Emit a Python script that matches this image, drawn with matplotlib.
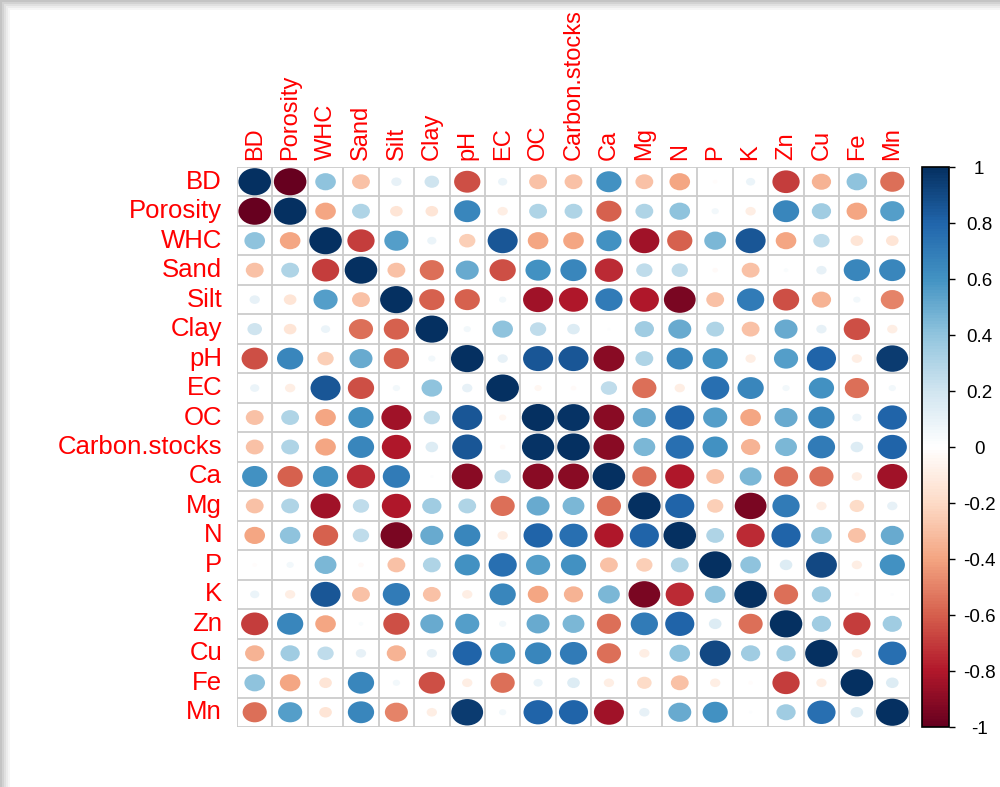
import numpy as np
import matplotlib
matplotlib.use("Agg")
import matplotlib.pyplot as plt
from matplotlib.colors import LinearSegmentedColormap, Normalize
from matplotlib.patches import Ellipse, Rectangle
import matplotlib.cm as cm

plt.rcParams["font.family"] = ["Liberation Sans", "DejaVu Sans"]

variables = ["BD", "Porosity", "WHC", "Sand", "Silt", "Clay", "pH", "EC", "OC",
             "Carbon.stocks", "Ca", "Mg", "N", "P", "K", "Zn", "Cu", "Fe", "Mn"]

# upper triangle, each row starts right after the diagonal
row_bd = [-1, 0.4, -0.3, 0.1, 0.2, -0.65, 0.08, -0.3, -0.3, 0.6, -0.3, -0.4, -0.02, 0.08, -0.7, -0.35, 0.4, -0.55]
row_porosity = [-0.4, 0.3, -0.15, -0.15, 0.65, -0.1, 0.3, 0.3, -0.6, 0.3, 0.4, 0.05, -0.1, 0.65, 0.35, -0.4, 0.55]
row_whc = [-0.7, 0.55, 0.08, -0.25, 0.85, -0.4, -0.4, 0.6, -0.85, -0.6, 0.45, 0.85, -0.4, 0.25, -0.15, -0.15]
row_sand = [-0.3, -0.55, 0.5, -0.65, 0.6, 0.65, -0.75, 0.25, 0.25, -0.03, -0.3, 0.02, 0.1, 0.65, 0.65]
row_silt = [-0.6, -0.6, 0.05, -0.85, -0.8, 0.7, -0.8, -0.95, -0.3, 0.7, -0.65, -0.35, 0.05, -0.5]
row_clay = [0.05, 0.4, 0.25, 0.15, 0.01, 0.35, 0.5, 0.3, -0.3, 0.5, 0.1, -0.65, -0.1]
row_ph = [0.1, 0.85, 0.85, -0.9, 0.3, 0.65, 0.6, -0.1, 0.55, 0.8, -0.1, 0.95]
row_ec = [-0.05, -0.03, 0.25, -0.55, -0.1, 0.75, 0.65, 0.05, 0.6, -0.55, 0.05]
row_oc = [0.98, -0.9, 0.5, 0.8, 0.55, -0.4, 0.5, 0.65, 0.08, 0.8]
row_cstocks = [-0.9, 0.45, 0.75, 0.6, -0.35, 0.45, 0.7, 0.15, 0.8]
row_ca = [-0.55, -0.8, -0.3, 0.45, -0.55, -0.55, -0.1, -0.85]
row_mg = [0.8, -0.25, -0.95, 0.7, -0.1, -0.2, 0.1]
row_n = [0.3, -0.75, 0.8, 0.4, -0.3, 0.5]
row_p = [0.4, 0.15, 0.9, -0.1, 0.6]
row_k = [-0.55, 0.35, -0.02, 0.01]
row_zn = [0.35, -0.7, 0.35]
row_cu = [-0.1, 0.75]
row_fe = [0.15]

upper_rows = [row_bd, row_porosity, row_whc, row_sand, row_silt, row_clay, row_ph,
              row_ec, row_oc, row_cstocks, row_ca, row_mg, row_n, row_p, row_k,
              row_zn, row_cu, row_fe]

cbar_ticks = [-1, -0.8, -0.6, -0.4, -0.2, 0, 0.2, 0.4, 0.6, 0.8, 1]
cbar_labels = ["-1", "-0.8", "-0.6", "-0.4", "-0.2", "0", "0.2", "0.4", "0.6", "0.8", "1"]

n = len(variables)
corr = np.eye(n)
for i, vals in enumerate(upper_rows):
    for k, v in enumerate(vals):
        j = i + 1 + k
        corr[i, j] = v
        corr[j, i] = v

col2 = ["#67001F", "#B2182B", "#D6604D", "#F4A582", "#FDDBC7", "#FFFFFF",
        "#D1E5F0", "#92C5DE", "#4393C3", "#2166AC", "#053061"]
cmap = LinearSegmentedColormap.from_list("corr", col2, N=200)
norm = Normalize(-1, 1)

fig = plt.figure(figsize=(10, 7.87), dpi=100)
fig.patch.set_facecolor("white")

# shadowed frame around the picture
for k, g in enumerate(["#c4c4c4", "#d2d2d2", "#e0e0e0", "#ececec", "#f6f6f6"]):
    fig.patches.append(Rectangle((k * 2 / 1000, 0), 1, 1 - k * 2 / 787,
                                 transform=fig.transFigure, facecolor=g,
                                 edgecolor="none", zorder=-10 + k))
fig.patches.append(Rectangle((10 / 1000, 0), 1, 1 - 10 / 787, transform=fig.transFigure,
                             facecolor="white", edgecolor="none", zorder=-4))

ax = fig.add_axes([0.237, 1 - 727 / 787, 0.673, 560 / 787])
ax.set_xlim(0, n)
ax.set_ylim(n, 0)
ax.axis("off")

for i in range(n + 1):
    ax.plot([0, n], [i, i], color="#cccccc", lw=1.3, zorder=1)
    ax.plot([i, i], [0, n], color="#cccccc", lw=1.3, zorder=1)

for i in range(n):
    for j in range(n):
        r = corr[i, j]
        d = 0.92 * np.sqrt(abs(r))
        ax.add_patch(Ellipse((j + 0.5, i + 0.5), d, d, facecolor=cmap(norm(r)),
                             edgecolor="none", zorder=2))

for i, name in enumerate(variables):
    ax.text(-0.42, i + 0.5, name, ha="right", va="center", color="#FF0000",
            fontsize=18.5, clip_on=False)
    ax.text(i + 0.5, -0.25, name, ha="center", va="bottom", rotation=90,
            color="#FF0000", fontsize=17, clip_on=False)

cax = fig.add_axes([0.922, 1 - 727 / 787, 0.027, 560 / 787])
sm = cm.ScalarMappable(norm=norm, cmap=cmap)
cb = fig.colorbar(sm, cax=cax, ticks=cbar_ticks)
cb.ax.set_yticklabels(cbar_labels)
cb.ax.tick_params(labelsize=13.5, length=4.3, width=1, pad=17.5)
for lbl in cb.ax.get_yticklabels():
    lbl.set_horizontalalignment("center")
cb.outline.set_linewidth(1.2)

fig.savefig("out.png", dpi=100)
